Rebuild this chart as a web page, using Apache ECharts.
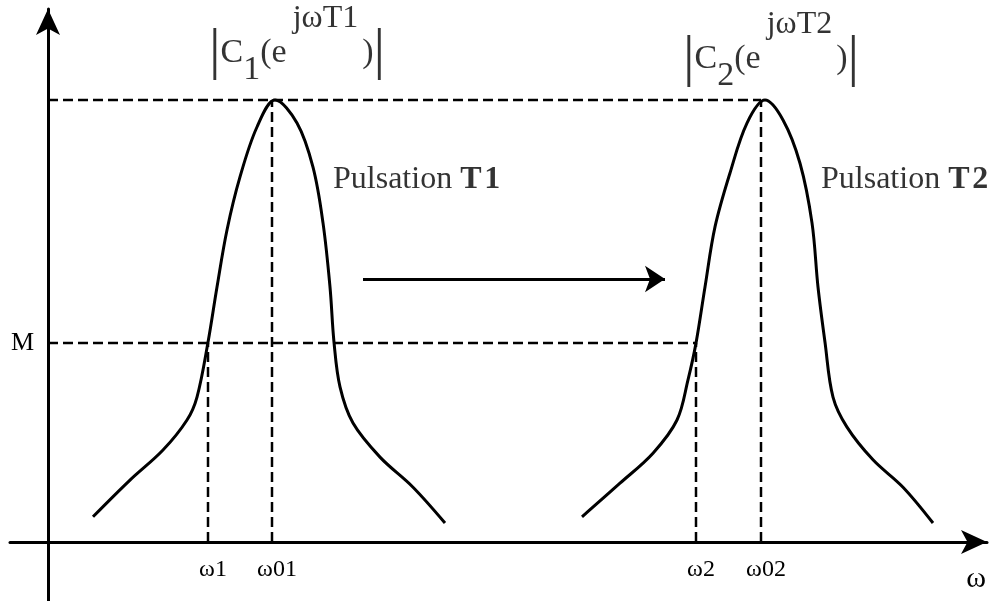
<!DOCTYPE html>
<html><head><meta charset="utf-8">
<script src="https://cdn.jsdelivr.net/npm/echarts@6/dist/echarts.min.js"></script>
<style>html,body{margin:0;padding:0;background:#fff}#c{width:990px;height:601px}</style>
</head><body><div id="c"></div>
<script>
const serif = '"Liberation Serif", "Times New Roman", serif';
const ink = '#000';

// Curve for pulsation T1: ω values and |C1(e^{jωT1})|
const curve1Omega = [0.45, 0.82, 1.15, 1.39, 1.49, 1.60, 1.69, 1.79, 1.92, 2.09, 2.27, 2.49, 2.65, 2.75, 2.82, 2.86, 2.92, 3.05, 3.32, 3.65, 3.97];
const curve1Mag   = [0.057, 0.140, 0.208, 0.276, 0.328, 0.452, 0.577, 0.706, 0.826, 0.939, 1.0, 0.948, 0.848, 0.722, 0.577, 0.452, 0.351, 0.269, 0.192, 0.124, 0.043];
// Curve for pulsation T2: ω values and |C2(e^{jωT2})|
const curve2Omega = [5.34, 5.72, 6.05, 6.29, 6.40, 6.48, 6.57, 6.67, 6.82, 6.99, 7.17, 7.35, 7.52, 7.64, 7.70, 7.77, 7.85, 7.99, 8.25, 8.55, 8.85];
const curve2Mag   = [0.057, 0.133, 0.201, 0.276, 0.367, 0.450, 0.577, 0.713, 0.835, 0.948, 1.0, 0.955, 0.857, 0.722, 0.577, 0.452, 0.328, 0.260, 0.186, 0.124, 0.043];

// Marked levels and frequencies
const peakLevel = 1.0;
const levelM = 0.45;
const omega1 = 1.60, omega01 = 2.24, omega2 = 6.48, omega02 = 7.13;

// Tick labels
const xTickValues = [omega1, omega01, omega2, omega02];
const xTickLabels = ['ω1', 'ω01', 'ω2', 'ω02'];
const yTickValues = [levelM];
const yTickLabels = ['M'];
const xAxisName = 'ω';

// Texts
const curveTitles = ['{b||}{c|C}{sub|1}{m|(e}{sup|jωT1}{m|)}{b||}', '{b||}{c|C}{sub|2}{m|(e}{sup|jωT2}{m|)}{b||}'];
const pulsationLabels = ['{n|Pulsation }{t|T\u200A1}', '{n|Pulsation }{t|T\u200A2}'];

const zip = (xs, ys) => xs.map((x, i) => [x, ys[i]]);
const dashStyle = { color: ink, width: 2.5, type: [10, 5] };
const dashed = pts => ({ type: 'line', data: pts, symbol: 'none', silent: true, lineStyle: dashStyle, z: 2, animation: false });
const curve = (xs, ys) => ({ type: 'line', data: zip(xs, ys), symbol: 'none', smooth: 0.35, silent: true, lineStyle: { color: ink, width: 3 }, z: 3, animation: false });

const LH = 102;
const txt = (size, extra) => Object.assign({ fontFamily: serif, fontSize: size, color: ink }, extra || {});
const formulaRich = {
  b:   txt(58, { lineHeight: LH, verticalAlign: 'middle' }),
  c:   txt(34, { lineHeight: LH, verticalAlign: 'middle' }),
  m:   txt(34, { lineHeight: LH, verticalAlign: 'middle' }),
  sub: txt(34, { verticalAlign: 'bottom', padding: [0, 0, 17, 0] }),
  sup: txt(32, { verticalAlign: 'top', padding: [0, 4, 0, 6] })
};
const pulsRich = {
  n: txt(32),
  t: txt(32, { fontWeight: 'bold' })
};

const labelMap = {};
xTickValues.forEach((v, i) => labelMap[v] = xTickLabels[i]);

const option = {
  backgroundColor: '#fff',
  animation: false,
  grid: { left: 10, right: 3, top: 9, bottom: 0, containLabel: false, outerBoundsMode: 'none' },
  xAxis: {
    type: 'value', min: -0.38, max: 9.39, position: 'bottom', offset: -59,
    name: xAxisName, nameLocation: 'end', nameGap: -11,
    nameTextStyle: { fontFamily: serif, fontSize: 30, color: ink, align: 'center', verticalAlign: 'top', padding: [22, 0, 0, 0] },
    axisLine: { onZero: false, symbol: ['none', 'arrow'], symbolSize: [18, 26], lineStyle: { color: ink, width: 3 } },
    axisTick: { show: false },
    splitLine: { show: false },
    axisLabel: {
      show: true, customValues: xTickValues, margin: 16,
      formatter: v => labelMap[v] || '',
      fontFamily: serif, fontSize: 24, color: ink, padding: [0, 0, 0, 10]
    }
  },
  yAxis: {
    type: 'value', min: -0.1335, max: 1.206, position: 'left', offset: -38,
    axisLine: { onZero: false, symbol: ['none', 'arrow'], symbolSize: [18, 26], lineStyle: { color: ink, width: 3 } },
    axisTick: { show: false },
    splitLine: { show: false },
    axisLabel: {
      show: true, customValues: yTickValues, margin: 14,
      formatter: () => yTickLabels[0],
      fontFamily: serif, fontSize: 26, color: ink
    }
  },
  series: [
    dashed([[0, peakLevel], [omega02, peakLevel]]),
    dashed([[0, levelM], [omega2, levelM]]),
    dashed([[omega1, 0], [omega1, levelM]]),
    dashed([[omega01, 0], [omega01, peakLevel]]),
    dashed([[omega2, 0], [omega2, levelM]]),
    dashed([[omega02, 0], [omega02, peakLevel]]),
    curve(curve1Omega, curve1Mag),
    curve(curve2Omega, curve2Mag),
    {
      type: 'lines', coordinateSystem: 'cartesian2d', silent: true, z: 4, animation: false,
      symbol: ['none', 'arrow'], symbolSize: 20,
      lineStyle: { color: ink, width: 3, opacity: 1, curveness: 0 },
      data: [{ coords: [[3.15, 0.595], [6.17, 0.595]] }]
    },
    {
      type: 'scatter', symbolSize: 0, silent: true, z: 5, animation: false,
      label: { show: true, position: [0, 0], align: 'left', verticalAlign: 'middle', color: ink },
      data: [
        { value: [1.61, 1.106], label: { formatter: curveTitles[0], rich: formulaRich } },
        { value: [6.35, 1.092], label: { formatter: curveTitles[1], rich: formulaRich } },
        { value: [2.85, 0.819], label: { formatter: pulsationLabels[0], rich: pulsRich } },
        { value: [7.73, 0.819], label: { formatter: pulsationLabels[1], rich: pulsRich } }
      ]
    }
  ]
};

const chart = echarts.init(document.getElementById('c'), null, { renderer: 'canvas' });
chart.setOption(option);
</script>
</body></html>
